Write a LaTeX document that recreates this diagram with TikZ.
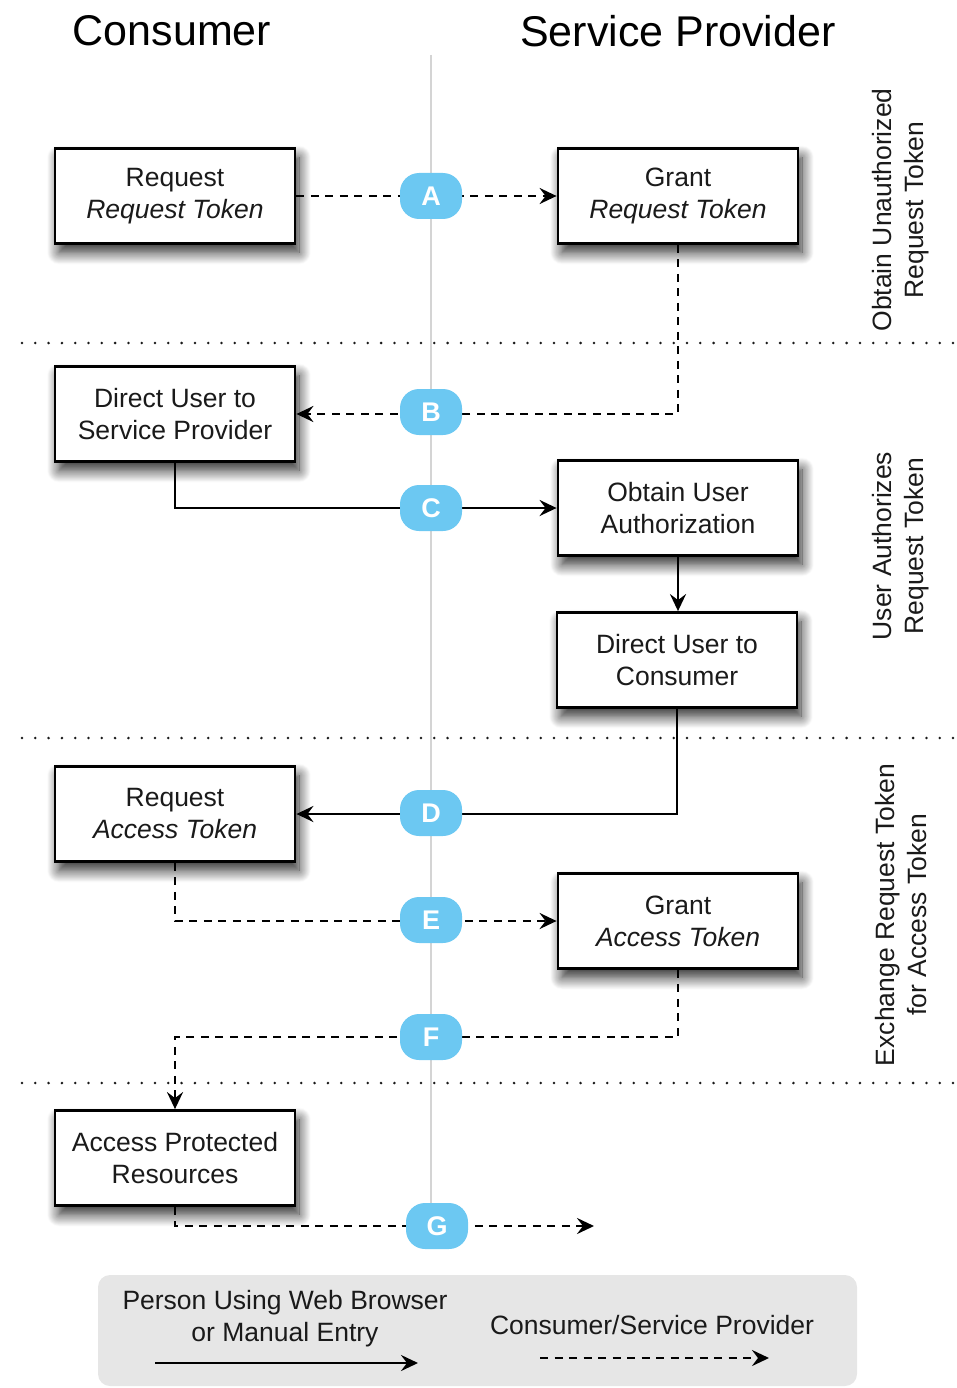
\documentclass[tikz,border=0pt]{standalone}
\usepackage{fontspec}
\setmainfont{Liberation Sans}
\usetikzlibrary{arrows.meta,shadows,shadows.blur}

\definecolor{badgeblue}{HTML}{6CC8F2}
\definecolor{legendgray}{HTML}{E6E6E6}
\definecolor{axisgray}{HTML}{D4D4D4}
\definecolor{inkgray}{HTML}{1A1A1A}

\begin{document}
\begin{tikzpicture}[x=1pt,y=-1pt,
  stepbox/.style={draw=black, line width=2.8pt, fill=white,
    minimum width=240pt, minimum height=95pt, inner sep=2pt,
    align=center, text=inkgray, font=\fontsize{26.5}{32}\selectfont,
    blur shadow={shadow xshift=4pt, shadow yshift=-9pt,
      shadow blur radius=12pt, shadow blur steps=16, shadow opacity=85}},
  badge/.style={fill=badgeblue, rounded corners=19pt,
    minimum width=62pt, minimum height=46pt, inner sep=0pt,
    text=white, font=\fontsize{27}{27}\selectfont\bfseries},
  flowtip/.style={-{Stealth[length=17pt,width=16pt,inset=6pt]}},
  solidflow/.style={draw=black, line width=2.7pt, flowtip},
  dashedflow/.style={draw=black, line width=2.7pt, dash pattern=on 8pt off 6.5pt, flowtip},
  sectionsep/.style={draw=inkgray, line width=2.8pt, line cap=round, dash pattern=on 0pt off 13.3pt},
  axis/.style={draw=axisgray, line width=2.2pt},
  heading/.style={font=\fontsize{43}{50}\selectfont, text=black},
  phase/.style={rotate=90, align=center, text=inkgray, font=\fontsize{26.5}{32}\selectfont},
  legendtext/.style={align=center, text=inkgray, font=\fontsize{26.5}{32}\selectfont}
]
\useasboundingbox (0,0) rectangle (957,1388);

% column headings
\node[heading] (consumer) at (172,31) {Consumer};
\node[heading] (provider) at (678,31) {Service Provider};

% boundary between the two parties
\coordinate (axtop) at (431,55);
\coordinate (axbot) at (431,1215);
\draw[axis] (axtop) -- (axbot);

% phase separators
\coordinate (s1l) at (22,343);   \coordinate (s1r) at (957,343);
\coordinate (s2l) at (22,738);   \coordinate (s2r) at (957,738);
\coordinate (s3l) at (22,1083);  \coordinate (s3r) at (957,1083);
\draw[sectionsep] (s1l) -- (s1r);
\draw[sectionsep] (s2l) -- (s2r);
\draw[sectionsep] (s3l) -- (s3r);

% phase labels
\node[phase] (ph1) at (901,210) {Obtain Unauthorized\\Request Token};
\node[phase] (ph2) at (901,546) {User Authorizes\\Request Token};
\node[phase] (ph3) at (901,915) {Exchange Request Token\\for Access Token};

% steps
\node[stepbox] (reqrt)   at (175,196)  {Request\\\textit{Request Token}};
\node[stepbox] (grantrt) at (678,196)  {Grant\\\textit{Request Token}};
\node[stepbox] (dirsp)   at (175,414)  {Direct User to\\Service Provider};
\node[stepbox] (obtain)  at (678,508)  {Obtain User\\Authorization};
\node[stepbox] (dircons) at (677,660)  {Direct User to\\Consumer};
\node[stepbox] (reqat)   at (175,814)  {Request\\\textit{Access Token}};
\node[stepbox] (grantat) at (678,921)  {Grant\\\textit{Access Token}};
\node[stepbox] (access)  at (175,1158) {Access Protected\\Resources};

% free turning/end points
\coordinate (fturn) at (175,1037);
\coordinate (gend)  at (594,1226);

% flows
\draw[dashedflow] (reqrt.east) -- (grantrt.west);
\draw[dashedflow] (grantrt.south) |- (dirsp.east);
\draw[solidflow]  (dirsp.south) |- (obtain.west);
\draw[solidflow]  (obtain.south) -- (obtain.south |- dircons.north);
\draw[solidflow]  (dircons.south) |- (reqat.east);
\draw[dashedflow] (reqat.south) |- (grantat.west);
\draw[dashedflow] (grantat.south) |- (fturn) -- (access.north);
\draw[dashedflow] (access.south) |- (gend);

% step badges
\node[badge] (ba) at (431,196)  {A};
\node[badge] (bb) at (431,412)  {B};
\node[badge] (bc) at (431,508)  {C};
\node[badge] (bd) at (431,813)  {D};
\node[badge] (be) at (431,920)  {E};
\node[badge] (bf) at (431,1037) {F};
\node[badge] (bg) at (437,1226) {G};

% legend
\node[fill=legendgray, rounded corners=12pt, minimum width=759pt,
      minimum height=111pt, inner sep=0pt] (legend) at (477.5,1330.5) {};
\node[legendtext] (lperson) at (285,1319) {Person Using Web Browser\\or Manual Entry};
\node[legendtext] (lcsp) at (652,1325) {Consumer/Service Provider};
\coordinate (ls1) at (155,1363); \coordinate (ls2) at (418,1363);
\coordinate (ld1) at (540,1358); \coordinate (ld2) at (769,1358);
\draw[solidflow] (ls1) -- (ls2);
\draw[dashedflow] (ld1) -- (ld2);
\end{tikzpicture}
\end{document}
